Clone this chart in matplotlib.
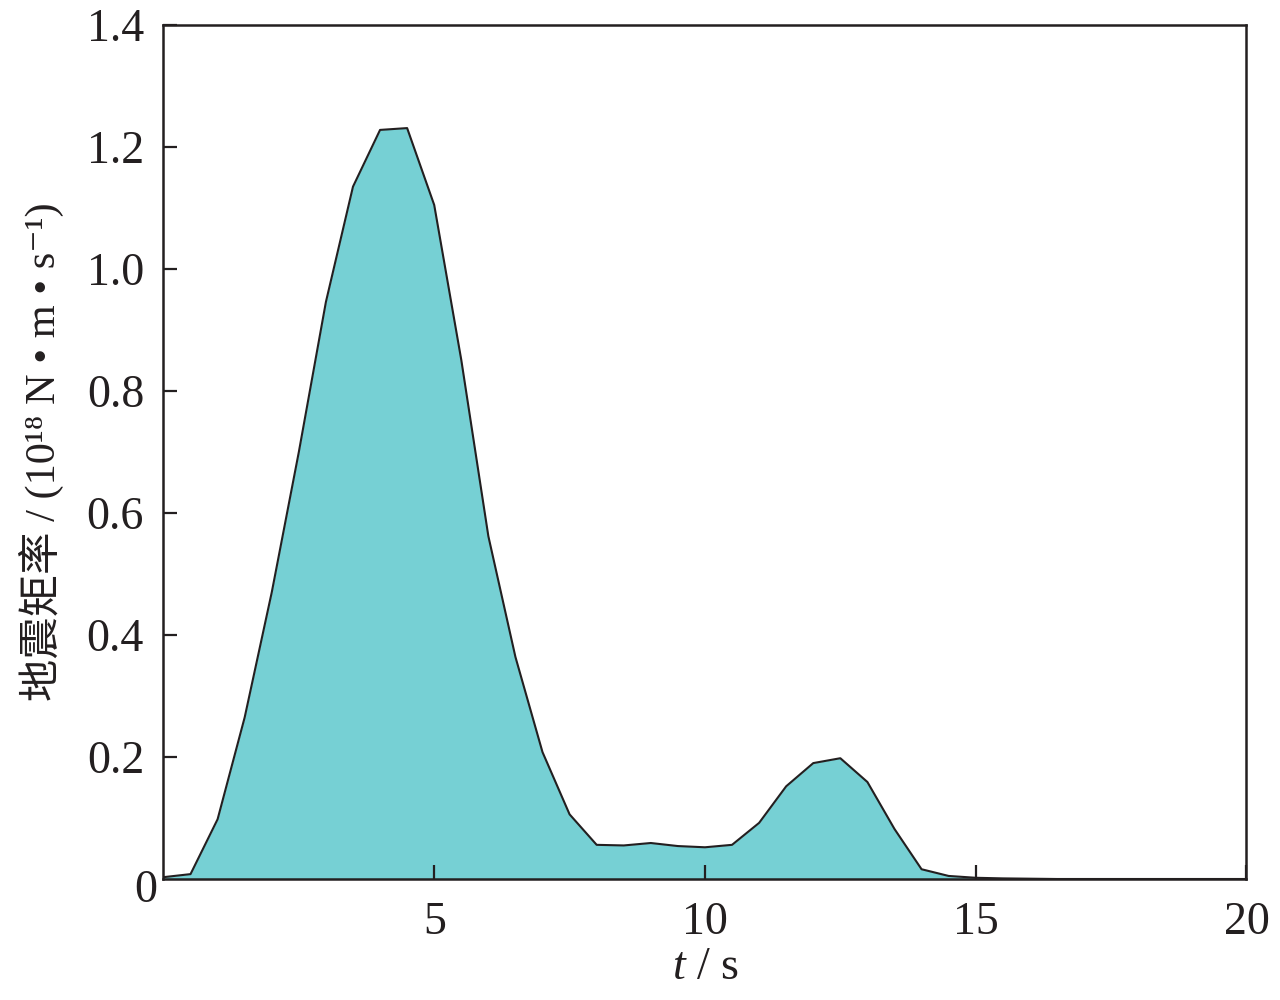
import matplotlib
matplotlib.use("Agg")
import matplotlib.pyplot as plt
import numpy as np

plt.rcParams['font.family'] = ['Liberation Serif', 'Noto Sans CJK SC', 'DejaVu Serif']
plt.rcParams['mathtext.fontset'] = 'custom'
plt.rcParams['mathtext.rm'] = 'Liberation Serif'
plt.rcParams['mathtext.it'] = 'Liberation Serif:italic'

time_s = [0, 0.5, 1, 1.5, 2, 2.5, 3, 3.5, 4, 4.5, 5, 5.5, 6, 6.5, 7, 7.5, 8, 8.5,
          9, 9.5, 10, 10.5, 11, 11.5, 12, 12.5, 13, 13.5, 14, 14.5, 15, 15.5, 16,
          16.5, 17, 17.5, 18, 18.5, 19, 19.5, 20]
moment_rate = [0.003, 0.008, 0.098, 0.265, 0.47, 0.70, 0.946, 1.135, 1.228, 1.231,
               1.105, 0.851, 0.562, 0.364, 0.208, 0.106, 0.056, 0.055, 0.059, 0.054,
               0.052, 0.056, 0.092, 0.152, 0.190, 0.198, 0.159, 0.082, 0.016, 0.005,
               0.002, 0.001, 0.0005, 0, 0, 0, 0, 0, 0, 0, 0]
x_ticks = [5, 10, 15, 20]
y_ticks = [0.2, 0.4, 0.6, 0.8, 1.0, 1.2, 1.4]

fig = plt.figure(figsize=(12.8, 10), dpi=100)
ax = fig.add_axes([0.1277, 0.121, 0.8461, 0.854])

ax.fill_between(time_s, moment_rate, 0, color='#76D0D4', linewidth=0)
ax.plot(time_s, moment_rate, color='#231F20', linewidth=1.5)

ax.set_xlim(0, 20)
ax.set_ylim(0, 1.4)
ax.set_xticks(x_ticks)
ax.set_xticklabels([str(v) for v in x_ticks])
ax.set_yticks(y_ticks)
ax.set_yticklabels([f"{v:.1f}" for v in y_ticks])
ax.tick_params(direction='in', length=10, width=1.6, labelsize=33, color='#231F20',
               labelcolor='#231F20', top=False, right=False)
ax.tick_params(axis='x', pad=16)
ax.tick_params(axis='y', pad=14)
for s in ax.spines.values():
    s.set_linewidth(1.8)
    s.set_color('#231F20')

ax.text(-0.006, -0.014, "0", transform=ax.transAxes, ha='right', va='center',
        fontsize=33, color='#231F20')

ax.set_xlabel("$t$ / s", fontsize=33, color='#231F20', labelpad=2)
ax.set_ylabel("地震矩率 / (10¹⁸ N • m • s⁻¹)", fontsize=30.5, color='#231F20', labelpad=16)

fig.savefig("out.png", dpi=100)
